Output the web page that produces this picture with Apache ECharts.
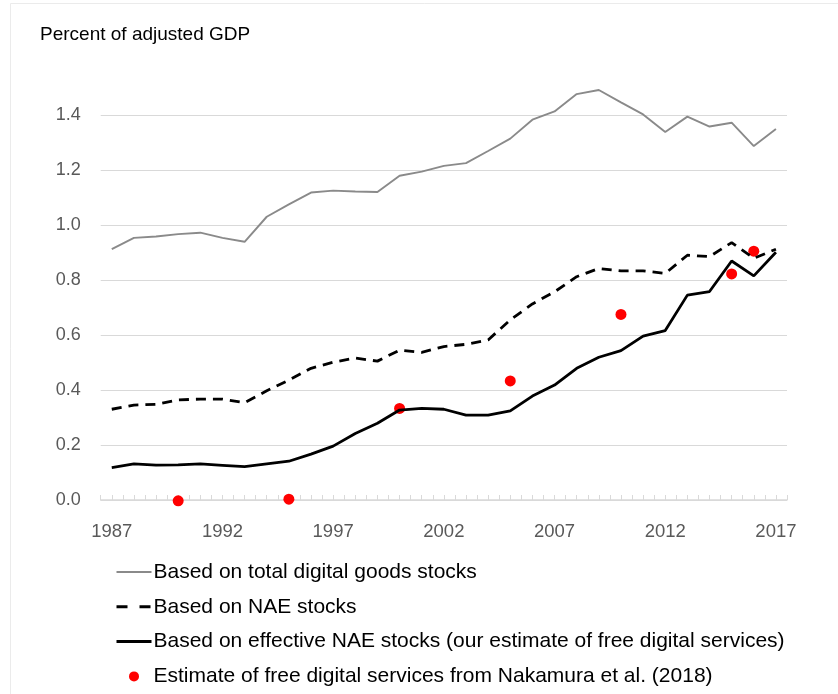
<!DOCTYPE html>
<html>
<head>
<meta charset="utf-8">
<script src="https://cdn.jsdelivr.net/npm/echarts@6/dist/echarts.min.js"></script>
<style>
html,body{margin:0;padding:0;background:#fff;}
#chart{width:838px;height:694px;}
</style>
</head>
<body>
<div id="chart"></div>
<script>
const years = [1987,1988,1989,1990,1991,1992,1993,1994,1995,1996,1997,1998,1999,2000,2001,2002,2003,2004,2005,2006,2007,2008,2009,2010,2011,2012,2013,2014,2015,2016,2017];
const totalDigitalGoods = [0.912,0.953,0.958,0.967,0.972,0.953,0.939,1.030,1.075,1.118,1.125,1.122,1.120,1.179,1.194,1.215,1.225,1.269,1.314,1.383,1.413,1.476,1.491,1.446,1.402,1.338,1.394,1.358,1.372,1.287,1.349];
const naeStocks = [0.330,0.345,0.348,0.364,0.367,0.367,0.354,0.397,0.436,0.479,0.501,0.516,0.505,0.545,0.537,0.558,0.566,0.582,0.655,0.713,0.757,0.812,0.842,0.833,0.833,0.824,0.890,0.885,0.936,0.879,0.912];
const effectiveNae = [0.118,0.131,0.127,0.128,0.131,0.126,0.121,0.131,0.141,0.167,0.196,0.242,0.279,0.327,0.333,0.330,0.309,0.309,0.324,0.378,0.418,0.479,0.519,0.543,0.596,0.616,0.745,0.758,0.869,0.815,0.901];
const nakamuraYears = [1990,1995,2000,2005,2010,2015,2016];
const nakamuraValues = [-0.003,0.003,0.333,0.433,0.675,0.822,0.905];
const xTickLabels = [1987,1992,1997,2002,2007,2012,2017];
const yTickLabels = ['0.0','0.2','0.4','0.6','0.8','1.0','1.2','1.4'];
const seriesNames = [
  'Based on total digital goods stocks',
  'Based on NAE stocks',
  'Based on effective NAE stocks (our estimate of free digital services)',
  'Estimate of free digital services from Nakamura et al. (2018)'
];

const pair = (xs, ys) => xs.map((x, i) => [x, ys[i]]);
const FONT = "'Liberation Sans', Arial, sans-serif";
const noSymbol = {color: 'rgba(0,0,0,0)', borderColor: 'rgba(0,0,0,0)', borderWidth: 0, opacity: 0};

const chart = echarts.init(document.getElementById('chart'), null, {renderer: 'canvas'});
chart.setOption({
  animation: false,
  backgroundColor: '#fff',
  textStyle: {fontFamily: FONT},
  title: {
    text: 'Percent of adjusted GDP',
    left: 40, top: 25, padding: 0,
    textStyle: {fontFamily: FONT, fontSize: 19, fontWeight: 'normal', color: '#000'}
  },
  graphic: [
    {type: 'line', shape: {x1: 10.5, y1: 3.5, x2: 838, y2: 3.5}, style: {stroke: '#ebebeb', lineWidth: 1}},
    {type: 'line', shape: {x1: 10.5, y1: 3.5, x2: 10.5, y2: 694}, style: {stroke: '#ebebeb', lineWidth: 1}}
  ],
  grid: {left: 100.7, right: 51, top: 87.5, bottom: 194},
  xAxis: {
    type: 'value',
    min: 1986.5, max: 2017.5, interval: 0.5,
    axisLine: {show: true, lineStyle: {color: '#d9d9d9', width: 1.5}},
    axisTick: {show: true, inside: true, length: 5, lineStyle: {color: '#d9d9d9'}},
    splitLine: {show: false},
    axisLabel: {
      margin: 22,
      fontSize: 18.5, color: '#595959', fontFamily: FONT,
      formatter: v => xTickLabels.indexOf(v) >= 0 ? String(v) : ''
    }
  },
  yAxis: {
    type: 'value',
    min: 0, max: 1.5, interval: 0.2,
    axisLine: {show: false},
    axisTick: {show: false},
    splitLine: {show: true, showMaxLine: false, lineStyle: {color: '#d9d9d9', width: 1.2}},
    axisLabel: {
      margin: 20, showMaxLabel: false,
      fontSize: 18, color: '#595959', fontFamily: FONT,
      formatter: v => yTickLabels[Math.round(v / 0.2)] || ''
    }
  },
  legend: {
    orient: 'vertical',
    left: 115, top: 561, padding: 0,
    itemWidth: 35, itemHeight: 10, itemGap: 12.8,
    textStyle: {fontSize: 21, color: '#000', fontFamily: FONT, lineHeight: 22, padding: [0,0,0,-3]},
    data: [
      {name: seriesNames[0], itemStyle: noSymbol},
      {name: seriesNames[1], itemStyle: noSymbol, lineStyle: {type: [11, 12], width: 3}},
      {name: seriesNames[2], itemStyle: noSymbol, lineStyle: {width: 3}},
      {name: seriesNames[3]}
    ]
  },
  series: [
    {
      name: seriesNames[0], type: 'line', symbol: 'none',
      data: pair(years, totalDigitalGoods),
      lineStyle: {color: '#8a8a8a', width: 1.9},
      itemStyle: {color: '#8a8a8a'}
    },
    {
      name: seriesNames[1], type: 'line', symbol: 'none',
      data: pair(years, naeStocks),
      lineStyle: {color: '#000', width: 2.8, type: [10, 7]},
      itemStyle: {color: '#000'}
    },
    {
      name: seriesNames[2], type: 'line', symbol: 'none',
      data: pair(years, effectiveNae),
      lineStyle: {color: '#000', width: 2.8},
      itemStyle: {color: '#000'}
    },
    {
      name: seriesNames[3], type: 'scatter', symbol: 'circle', symbolSize: 11,
      data: pair(nakamuraYears, nakamuraValues),
      itemStyle: {color: '#ff0000', opacity: 1},
      clip: false
    }
  ]
});
</script>
</body>
</html>
